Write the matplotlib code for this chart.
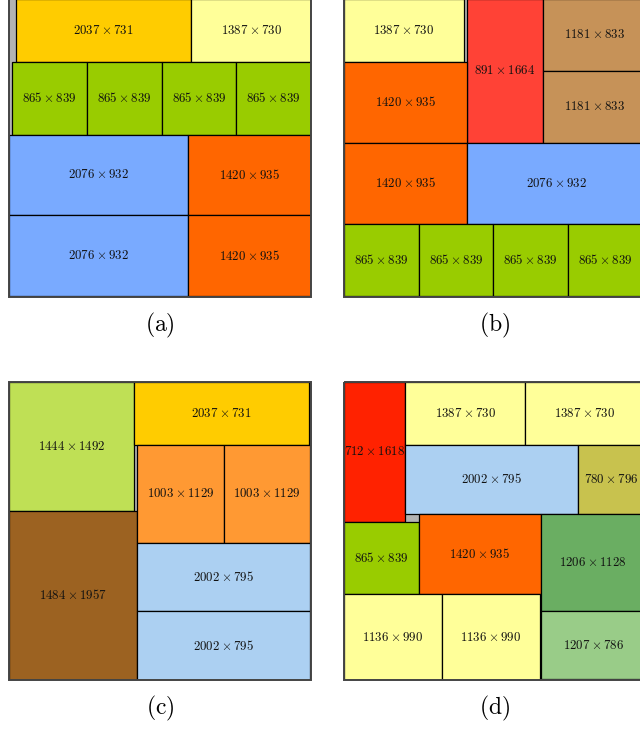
import matplotlib
matplotlib.use("Agg")
import matplotlib.pyplot as plt
from matplotlib.patches import Rectangle

# bin size used in every panel (units of the packed items)
BIN_W = 3500
BIN_H = 3450

# panel (a): item sizes and placements (x, y from top-left corner)
A_W = [2037, 1387, 865, 865, 865, 865, 2076, 2076, 1420, 1420]
A_H = [731, 730, 839, 839, 839, 839, 932, 932, 935, 935]
A_X = [76, 2113, 40, 905, 1770, 2635, 0, 0, 2076, 2076]
A_Y = [0, 0, 731, 731, 731, 731, 1570, 2502, 1570, 2505]

# panel (b)
B_W = [1387, 891, 1181, 1181, 1420, 1420, 2076, 865, 865, 865, 865]
B_H = [730, 1664, 833, 833, 935, 935, 932, 839, 839, 839, 839]
B_X = [0, 1420, 2311, 2311, 0, 0, 1420, 0, 865, 1730, 2595]
B_Y = [0, 0, 0, 833, 730, 1665, 1668, 2600, 2600, 2600, 2600]

# panel (c)
C_W = [1444, 1484, 2037, 1003, 1003, 2002, 2002]
C_H = [1492, 1957, 731, 1129, 1129, 795, 795]
C_X = [0, 0, 1444, 1484, 2487, 1484, 1484]
C_Y = [0, 1492, 0, 731, 731, 1860, 2655]

# panel (d)
D_W = [712, 1387, 1387, 2002, 780, 865, 1420, 1206, 1207, 1136, 1136]
D_H = [1618, 730, 730, 795, 796, 839, 935, 1128, 786, 990, 990]
D_X = [0, 712, 2099, 712, 2714, 0, 865, 2285, 2285, 0, 1136]
D_Y = [0, 0, 0, 730, 730, 1618, 1525, 1526, 2654, 2460, 2460]

CAPTIONS = ["(a)", "(b)", "(c)", "(d)"]

# fill colour of each item type
COLORS = {
    (2037, 731): "#ffcc00",
    (1387, 730): "#ffff99",
    (865, 839): "#99cc00",
    (2076, 932): "#79aaff",
    (1420, 935): "#ff6600",
    (891, 1664): "#ff4236",
    (1181, 833): "#c69258",
    (1444, 1492): "#bfe055",
    (1003, 1129): "#ff9933",
    (1484, 1957): "#9c6221",
    (2002, 795): "#acd0f2",
    (712, 1618): "#ff2200",
    (780, 796): "#c8c24e",
    (1206, 1128): "#6aae62",
    (1207, 786): "#99cc88",
    (1136, 990): "#ffff99",
}
GAP_COLOR = "#b3b3b3"

plt.rcParams["mathtext.fontset"] = "cm"

W_PX, H_PX = 640, 731
fig = plt.figure(figsize=(W_PX / 100, H_PX / 100), dpi=100)


def px_axes(left, top, width=302, height=298):
    """axes from pixel box (origin top-left of figure)"""
    return fig.add_axes([left / W_PX, 1 - (top + height) / H_PX,
                         width / W_PX, height / H_PX])


def draw_panel(ax, ws, hs, xs, ys, caption):
    ax.set_xlim(0, BIN_W)
    ax.set_ylim(BIN_H, 0)
    ax.axis("off")
    # waste area shows through in gray
    ax.add_patch(Rectangle((0, 0), BIN_W, BIN_H, facecolor=GAP_COLOR,
                           edgecolor="none", zorder=0))
    for w, h, x, y in zip(ws, hs, xs, ys):
        ax.add_patch(Rectangle((x, y), w, h, facecolor=COLORS[(w, h)],
                               edgecolor="black", lw=0.9, zorder=1))
        ax.text(x + w / 2, y + h / 2, r"$%d\times%d$" % (w, h),
                ha="center", va="center", fontsize=9.3, color="#111111",
                zorder=2)
    # frame of the bin
    ax.add_patch(Rectangle((0, 0), BIN_W, BIN_H, facecolor="none",
                           edgecolor="#444444", lw=1.4, zorder=3,
                           clip_on=False))
    ax.text(0.5, -0.095, r"$\mathrm{%s}$" % caption, transform=ax.transAxes,
            ha="center", va="center", fontsize=17)


ax_a = px_axes(9, -1)
ax_b = px_axes(344, -1)
ax_c = px_axes(9, 382)
ax_d = px_axes(344, 382)

draw_panel(ax_a, A_W, A_H, A_X, A_Y, CAPTIONS[0])
draw_panel(ax_b, B_W, B_H, B_X, B_Y, CAPTIONS[1])
draw_panel(ax_c, C_W, C_H, C_X, C_Y, CAPTIONS[2])
draw_panel(ax_d, D_W, D_H, D_X, D_Y, CAPTIONS[3])

fig.savefig("out.png", dpi=100, facecolor="white")
